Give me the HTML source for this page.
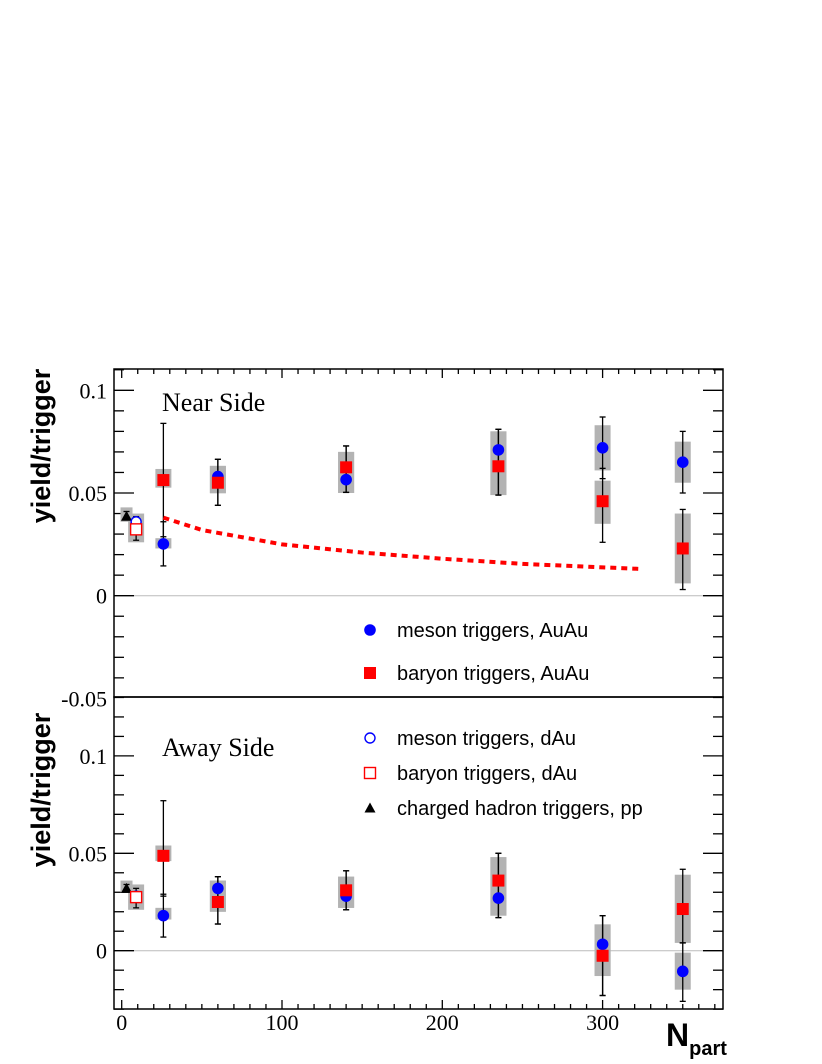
<!DOCTYPE html>
<html><head><meta charset="utf-8"><style>
body{margin:0;background:#fff}
svg{display:block}
text{font-family:"Liberation Sans",sans-serif}
.serif{font-family:"Liberation Serif",serif}
</style></head><body>
<svg id="c" width="822" height="1064" xmlns="http://www.w3.org/2000/svg"></svg>
<script>
// Shared x categories (Npart)
const npartAuAu = [26, 60, 140, 235, 300, 350];
const npartDAu = 9;
const npartPP = 3;
// Near side (top panel)
const nearMeson = [0.0252, 0.058, 0.0565, 0.071, 0.072, 0.065];
const nearMesonErr = [[0.036,0.0145],[0.0664,0.044],[0.0729,0.0503],[0.081,0.049],[0.087,0.057],[0.080,0.050]];
const nearMesonSys = [[0.028,0.023],[0.0632,0.0499],[0.070,0.050],[0.080,0.049],[0.083,0.061],[0.075,0.055]];
const nearBaryon = [0.0563, 0.055, 0.0625, 0.063, 0.046, 0.023];
const nearBaryonErr = [[0.0839,0.0287],[0.0664,0.044],[0.0729,0.0503],[0.081,0.049],[0.062,0.026],[0.042,0.003]];
const nearBaryonSys = [[0.0617,0.0526],[0.0632,0.0499],[0.070,0.050],[0.080,0.049],[0.056,0.035],[0.040,0.006]];
const nearDAuMeson = 0.036, nearDAuBaryon = 0.0323, nearDAuErr = [0.0385,0.027], nearDAuSys = [0.040,0.026];
const nearPP = 0.0387, nearPPErr = [0.041,0.037], nearPPSys = [0.043,0.036];
const curveX = [26, 50, 100, 150, 200, 250, 300, 325];
const curveY = [0.038, 0.032, 0.025, 0.021, 0.018, 0.0155, 0.0138, 0.013];
// Away side (bottom panel)
const awayMeson = [0.018, 0.032, 0.028, 0.027, 0.0033, -0.0106];
const awayMesonErr = [[0.029,0.007],[0.038,0.0137],[0.041,0.021],[0.050,0.017],[0.018,-0.023],[0.004,-0.026]];
const awayMesonSys = [[0.022,0.016],[0.036,0.020],[0.038,0.022],[0.048,0.018],[0.0135,-0.013],[-0.001,-0.020]];
const awayBaryon = [0.0487, 0.025, 0.031, 0.036, -0.0026, 0.0214];
const awayBaryonErr = [[0.077,0.028],[0.038,0.0137],[0.041,0.021],[0.050,0.017],[0.018,-0.023],[0.0418,0.004]];
const awayBaryonSys = [[0.054,0.046],[0.036,0.020],[0.038,0.022],[0.048,0.018],[0.0135,-0.013],[0.039,0.004]];
const awayDAuMeson = 0.028, awayDAuBaryon = 0.0275, awayDAuErr = [0.032,0.022], awayDAuSys = [0.034,0.021];
const awayPP = 0.032, awayPPErr = [0.034,0.030], awayPPSys = [0.036,0.030];
const topTicks = ["-0.05","0","0.05","0.1"], topTickVals=[-0.05,0,0.05,0.1];
const botTicks = ["0","0.05","0.1"], botTickVals=[0,0.05,0.1];
const xTicks = ["0","100","200","300"], xTickVals=[0,100,200,300];

const S = document.getElementById('c'), NS="http://www.w3.org/2000/svg";
function mk(tag, at, parent){const e=document.createElementNS(NS,tag);for(const k in at)e.setAttribute(k,at[k]);(parent||S).appendChild(e);return e;}
const L=114, R=723;
const X = v => 121.7 + (v)*1.603;
const YT = v => 595.7 - v*2054;
const YB = v => 950.7 - v*1948;
const top0=369, mid=697, bot=1009;

function panel(Y, y0, y1, ticks, tickVals, name, minorFrom, minorTo){
  const g=mk('g',{});
  
  
  const zl=mk('line',{x1:L,x2:R,y1:Y(0),y2:Y(0),stroke:'#bbb','stroke-width':1},g);
  
  
  for(let v=minorFrom; v<=minorTo+1e-9; v+=0.01){
    const yy=Y(v); if(yy<y0-0.5||yy>y1+0.5) continue;
    const major=Math.abs(Math.round(v*100)%5)===0;
    const len=major?20:10;
    mk('line',{x1:L,x2:L+len,y1:yy,y2:yy,stroke:'#000','stroke-width':1.3},g);
    mk('line',{x1:R,x2:R-len,y1:yy,y2:yy,stroke:'#000','stroke-width':1.3},g);
  }
  ticks.forEach((t,i)=>{
    const tx=mk('text',{x:107,y:Y(tickVals[i])+8,'text-anchor':'end','font-size':22,class:'serif'},g);
    tx.textContent=t;
    
    
  });
  return g;
}
panel(YT, top0, mid, topTicks, topTickVals, 'near-side', -0.05, 0.11);
panel(YB, mid, bot, botTicks, botTickVals, 'away-side', -0.03, 0.13);

// x ticks
for(let v=0; v<=370; v+=10){
  const major=v%100===0, xx=X(v);
  mk('line',{x1:xx,x2:xx,y1:bot,y2:bot-(major?9:5),stroke:'#000','stroke-width':1.3});
  mk('line',{x1:xx,x2:xx,y1:top0,y2:top0+(major?9:5),stroke:'#000','stroke-width':1.3});
}
xTicks.forEach((t,i)=>{
  const tx=mk('text',{x:X(xTickVals[i]),y:1030,'text-anchor':'middle','font-size':22,class:'serif'});
  tx.textContent=t;
  
  
});

function sysBox(Y,x,hi,lo,w,name){
  const r=mk('rect',{x:x-w/2,y:Y(hi),width:w,height:Y(lo)-Y(hi),fill:'#b3b3b3'});
  
  
}
function errBar(Y,x,hi,lo,name){
  const g=mk('g',{stroke:'#000','stroke-width':1.3});
  
  
  mk('line',{x1:x,x2:x,y1:Y(hi),y2:Y(lo)},g);
  mk('line',{x1:x-3,x2:x+3,y1:Y(hi),y2:Y(hi)},g);
  mk('line',{x1:x-3,x2:x+3,y1:Y(lo),y2:Y(lo)},g);
}
function circ(cx,cy,open,name){
  const c=mk('circle',{cx:cx,cy:cy,r:open?5:5.8,fill:open?'#fff':'#0000ff',stroke:'#0000ff','stroke-width':open?1.4:0});
  
  
}
function sq(cx,cy,open,name){
  const s=open?11:12;
  const r=mk('rect',{x:cx-s/2,y:cy-s/2,width:s,height:s,fill:open?'#fff':'#ff0000',stroke:'#ff0000','stroke-width':open?1.4:0});
  
  
}
function tri(cx,cy,name){
  const p=mk('polygon',{points:`${cx-5.5},${cy+4.5} ${cx+5.5},${cy+4.5} ${cx},${cy-5.5}`,fill:'#000'});
  
  
}

function drawPanel(Y,p,meson,mErr,mSys,baryon,bErr,bSys,dM,dB,dErr,dSys,pp,ppErr,ppSys){
  sysBox(Y,X(npartPP),ppSys[0],ppSys[1],12,p+'-pp-sys');
  sysBox(Y,X(npartDAu),dSys[0],dSys[1],16,p+'-dau-sys');
  npartAuAu.forEach((n,i)=>{
    sysBox(Y,X(n),mSys[i][0],mSys[i][1],16,p+'-meson-sys');
    sysBox(Y,X(n),bSys[i][0],bSys[i][1],16,p+'-baryon-sys');
  });
  errBar(Y,X(npartPP),ppErr[0],ppErr[1],p+'-pp-err');
  errBar(Y,X(npartDAu),dErr[0],dErr[1],p+'-dau-err');
  npartAuAu.forEach((n,i)=>{
    errBar(Y,X(n),mErr[i][0],mErr[i][1],p+'-meson-err');
    errBar(Y,X(n),bErr[i][0],bErr[i][1],p+'-baryon-err');
  });
  tri(X(npartPP),Y(pp),p+'-pp-point');
  circ(X(npartDAu),Y(dM),true,p+'-dau-meson-point');
  sq(X(npartDAu),Y(dB),true,p+'-dau-baryon-point');
  npartAuAu.forEach((n,i)=>{
    circ(X(n),Y(meson[i]),false,p+'-meson-point');
    sq(X(n),Y(baryon[i]),false,p+'-baryon-point');
  });
}
drawPanel(YT,'near',nearMeson,nearMesonErr,nearMesonSys,nearBaryon,nearBaryonErr,nearBaryonSys,nearDAuMeson,nearDAuBaryon,nearDAuErr,nearDAuSys,nearPP,nearPPErr,nearPPSys);
drawPanel(YB,'away',awayMeson,awayMesonErr,awayMesonSys,awayBaryon,awayBaryonErr,awayBaryonSys,awayDAuMeson,awayDAuBaryon,awayDAuErr,awayDAuSys,awayPP,awayPPErr,awayPPSys);

// dashed curve
const cv=mk('polyline',{points:curveX.map((x,i)=>X(x)+','+YT(curveY[i])).join(' '),fill:'none',stroke:'#ff0000','stroke-width':4,'stroke-dasharray':'6 5'});



// frames
const f1=mk('rect',{x:L,y:top0,width:R-L,height:mid-top0,fill:'none',stroke:'#000','stroke-width':1.5});


const f2=mk('rect',{x:L,y:mid,width:R-L,height:bot-mid,fill:'none',stroke:'#000','stroke-width':1.5});



// legend
const leg=[['circle',false,'meson triggers, AuAu',630],['square',false,'baryon triggers, AuAu',673],['circle',true,'meson triggers, dAu',738],['square',true,'baryon triggers, dAu',773],['tri',false,'charged hadron triggers, pp',808]];
leg.forEach(l=>{
  if(l[0]==='circle') circ(370,l[3],l[1],'legend-marker');
  else if(l[0]==='square') sq(370,l[3],l[1],'legend-marker');
  else tri(370,l[3],'legend-marker');
  const t=mk('text',{x:397,y:l[3]+7,'font-size':20});
  t.textContent=l[2];
  
  
});
</script>
<div style="position:absolute;left:0;top:0;width:822px;height:1064px;pointer-events:none">
<svg width="822" height="1064" xmlns="http://www.w3.org/2000/svg">
<text x="162" y="411" font-size="26" style="font-family:'Liberation Serif',serif">Near Side</text>
<text x="162" y="756" font-size="26" style="font-family:'Liberation Serif',serif">Away Side</text>
<text transform="translate(50,446) rotate(-90)" text-anchor="middle" font-size="27" font-weight="bold" style="font-family:'Liberation Sans',sans-serif">yield/trigger</text>
<text transform="translate(50,790) rotate(-90)" text-anchor="middle" font-size="27" font-weight="bold" style="font-family:'Liberation Sans',sans-serif">yield/trigger</text>
<text x="666" y="1046" font-size="32" font-weight="bold" style="font-family:'Liberation Sans',sans-serif">N<tspan font-size="20" dy="9">part</tspan></text>
</svg></div>
</body></html>
